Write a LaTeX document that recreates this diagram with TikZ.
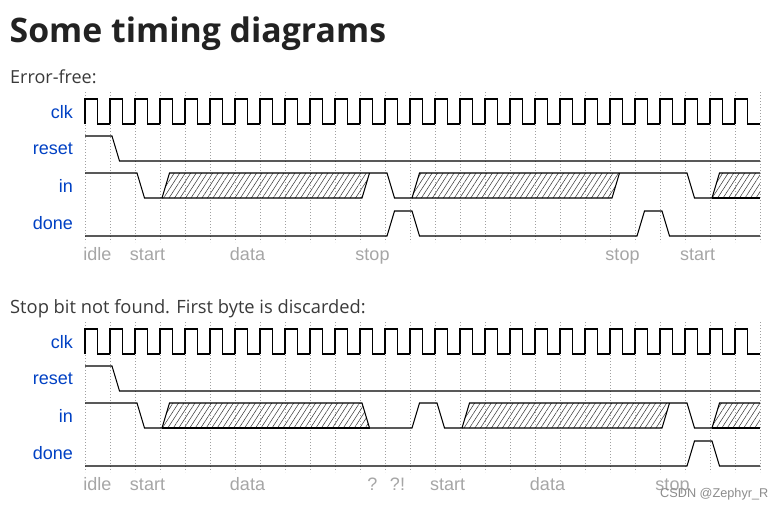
\documentclass[tikz,border=0pt]{standalone}
\usepackage{fontspec}
\usetikzlibrary{patterns.meta}
\newfontfamily\wfont{Liberation Sans}
\newfontfamily\ttlfont{Open Sans}
\newfontfamily\bodyfont{Open Sans}
\definecolor{sigblue}{HTML}{0041C4}
\definecolor{lblgray}{HTML}{A6A6A6}
\definecolor{gridgray}{HTML}{A0A0A0}
\definecolor{titlecol}{HTML}{222222}
\definecolor{bodycol}{HTML}{3A3A3A}
\tikzset{
  wave/.style={line width=1.05pt, black, line join=miter},
  gridline/.style={gridgray, line width=0.5pt, dash pattern=on 0.8pt off 2.2pt},
  hatch/.style={pattern={Lines[angle=57, distance=4.6pt, line width=0.5pt]}, pattern color=black!80},
  signame/.style={anchor=east, text=sigblue, font=\wfont\fontsize{18}{20}\selectfont, inner sep=0pt},
  phase/.style={anchor=base, text=lblgray, font=\wfont\fontsize{18}{20}\selectfont, inner sep=0pt},
}
\begin{document}
\begin{tikzpicture}[x=1pt, y=-1pt]
\useasboundingbox (0,0) rectangle (784,509);
\fill[white] (0,0) rectangle (784,509);

% texts
\node[anchor=base west, inner sep=0pt, text=titlecol, font=\ttlfont\bfseries\fontsize{33.8}{40}\selectfont] (title) at (9.5,42) {Some timing diagrams};
\node[anchor=base west, inner sep=0pt, text=bodycol, font=\bodyfont\fontsize{18}{20}\selectfont] (sub1) at (10,83.5) {Error-free:};
\node[anchor=base west, inner sep=0pt, text=bodycol, font=\bodyfont\fontsize{18.3}{20}\selectfont] (sub2) at (10,313.5) {Stop bit not found. First byte is discarded:};

% ---------- grids ----------
\foreach \k in {0,...,27} {
  \draw[gridline] (85+25*\k, 92) -- (85+25*\k, 242);
  \draw[gridline] (85+25*\k, 322) -- (85+25*\k, 472);
}

% ---------- clocks ----------
\foreach \o in {0,230} {
  \foreach \k in {0,...,26} {
    \draw[wave] (85+25*\k, 124+\o) -- (85+25*\k, 99+\o) -- (97.5+25*\k, 99+\o) -- (97.5+25*\k, 124+\o) -- (110+25*\k, 124+\o);
  }
  % reset
  \draw[wave] (85,136+\o) -- (112,136+\o) -- (119.5,161+\o) -- (760,161+\o);
}

% signal names
\foreach \o/\s in {0/a,230/b} {
  \node[signame] (clk\s) at (73,112+\o) {clk};
  \node[signame] (reset\s) at (73,149+\o) {reset};
  \node[signame] (in\s) at (73,186+\o) {in};
  \node[signame] (done\s) at (73,223+\o) {done};
}

% ---------- diagram 1: in ----------
\fill[hatch] (162,198) -- (169.5,173) -- (369.5,173) -- (362,198) -- cycle;
\fill[hatch] (412,198) -- (419.5,173) -- (619.5,173) -- (612,198) -- cycle;
\fill[hatch] (712,198) -- (719.5,173) -- (760,173) -- (760,198) -- cycle;
\draw[wave] (85,173) -- (137,173) -- (144.5,198) -- (162,198) -- (169.5,173) -- (369.5,173) -- (387,173) -- (394.5,198) -- (412,198) -- (419.5,173) -- (619.5,173) -- (687,173) -- (694.5,198) -- (712,198) -- (719.5,173) -- (760,173);
\draw[wave] (162,198) -- (362,198) -- (369.5,173);
\draw[wave] (412,198) -- (612,198) -- (619.5,173);
\draw[wave] (712,198) -- (760,198);
% done
\draw[wave] (85,236) -- (387,236) -- (394.5,211) -- (412,211) -- (419.5,236) -- (637,236) -- (644.5,211) -- (662,211) -- (669.5,236) -- (760,236);

% ---------- diagram 2: in ----------
\fill[hatch] (162,428) -- (169.5,403) -- (362,403) -- (369.5,428) -- cycle;
\fill[hatch] (462,428) -- (469.5,403) -- (669.5,403) -- (662,428) -- cycle;
\fill[hatch] (712,428) -- (719.5,403) -- (760,403) -- (760,428) -- cycle;
\draw[wave] (85,403) -- (137,403) -- (144.5,428) -- (162,428) -- (169.5,403) -- (362,403) -- (369.5,428) -- (412,428) -- (419.5,403) -- (437,403) -- (444.5,428) -- (462,428) -- (469.5,403) -- (669.5,403) -- (687,403) -- (694.5,428) -- (712,428) -- (719.5,403) -- (760,403);
\draw[wave] (162,428) -- (369.5,428);
\draw[wave] (462,428) -- (662,428) -- (669.5,403);
\draw[wave] (712,428) -- (760,428);
% done
\draw[wave] (85,466) -- (687,466) -- (694.5,441) -- (712,441) -- (719.5,466) -- (760,466);

% ---------- phase labels ----------
\node[phase] (p1) at (97.5,260) {idle};
\node[phase] (p2) at (147.5,260) {start};
\node[phase] (p3) at (247.5,260) {data};
\node[phase] (p4) at (372.5,260) {stop};
\node[phase] (p5) at (622.5,260) {stop};
\node[phase] (p6) at (697.5,260) {start};

\node[phase] (q1) at (97.5,490) {idle};
\node[phase] (q2) at (147.5,490) {start};
\node[phase] (q3) at (247.5,490) {data};
\node[phase] (q4) at (372.5,490) {?};
\node[phase] (q5) at (397.5,490) {?!};
\node[phase] (q6) at (447.5,490) {start};
\node[phase] (q7) at (547.5,490) {data};
\node[phase] (q8) at (672.5,490) {stop};

% watermark (overlaps "stop" as in the reference)
\node[anchor=base west, inner sep=0pt, text=black!45, font=\wfont\fontsize{12.7}{14}\selectfont] (wm) at (660,497) {CSDN @Zephyr\_R};
\end{tikzpicture}
\end{document}
